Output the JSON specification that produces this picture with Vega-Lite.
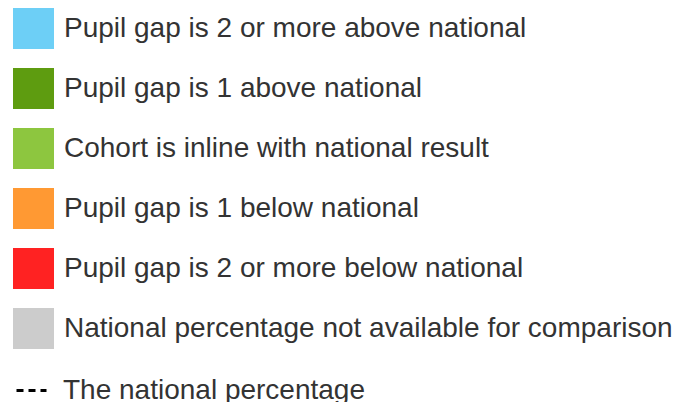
{
  "$schema": "https://vega.github.io/schema/vega-lite/v6.json",
  "width": 674,
  "height": 402,
  "padding": 0,
  "autosize": "none",
  "background": "white",
  "config": {"view": {"stroke": null}, "font": "Liberation Sans"},
  "data": {
    "values": [
      {"category": "Pupil gap is 2 or more above national", "line": "The national percentage"},
      {"category": "Pupil gap is 1 above national", "line": "The national percentage"},
      {"category": "Cohort is inline with national result", "line": "The national percentage"},
      {"category": "Pupil gap is 1 below national", "line": "The national percentage"},
      {"category": "Pupil gap is 2 or more below national", "line": "The national percentage"},
      {"category": "National percentage not available for comparison", "line": "The national percentage"}
    ]
  },
  "layer": [
    {
      "mark": {"type": "point", "shape": "square", "filled": true, "opacity": 0},
      "encoding": {
        "color": {
          "field": "category",
          "type": "nominal",
          "sort": null,
          "scale": {
            "domain": [
              "Pupil gap is 2 or more above national",
              "Pupil gap is 1 above national",
              "Cohort is inline with national result",
              "Pupil gap is 1 below national",
              "Pupil gap is 2 or more below national",
              "National percentage not available for comparison"
            ],
            "range": ["#6DCFF6", "#5E9C10", "#8DC63F", "#FF9933", "#FF2222", "#CCCCCC"]
          },
          "legend": {
            "orient": "none",
            "legendX": 13,
            "legendY": 8,
            "title": null,
            "padding": 0,
            "symbolType": "square",
            "symbolSize": 1681,
            "symbolOpacity": 1,
            "symbolStrokeWidth": 0,
            "labelFont": "Liberation Sans",
            "labelFontSize": 28,
            "labelColor": "#333333",
            "labelOffset": 10,
            "labelLimit": 700,
            "rowPadding": 19
          }
        }
      }
    },
    {
      "mark": {"type": "rule", "opacity": 0},
      "encoding": {
        "strokeDash": {
          "field": "line",
          "type": "nominal",
          "scale": {"range": [[7, 5]]},
          "legend": {
            "orient": "none",
            "legendX": 15,
            "legendY": 374,
            "title": null,
            "padding": 0,
            "symbolType": "stroke",
            "symbolSize": 900,
            "symbolOpacity": 1,
            "symbolStrokeColor": "#000000",
            "symbolStrokeWidth": 3,
            "labelFont": "Liberation Sans",
            "labelFontSize": 28,
            "labelColor": "#333333",
            "labelOffset": 15,
            "labelLimit": 700
          }
        }
      }
    }
  ]
}
